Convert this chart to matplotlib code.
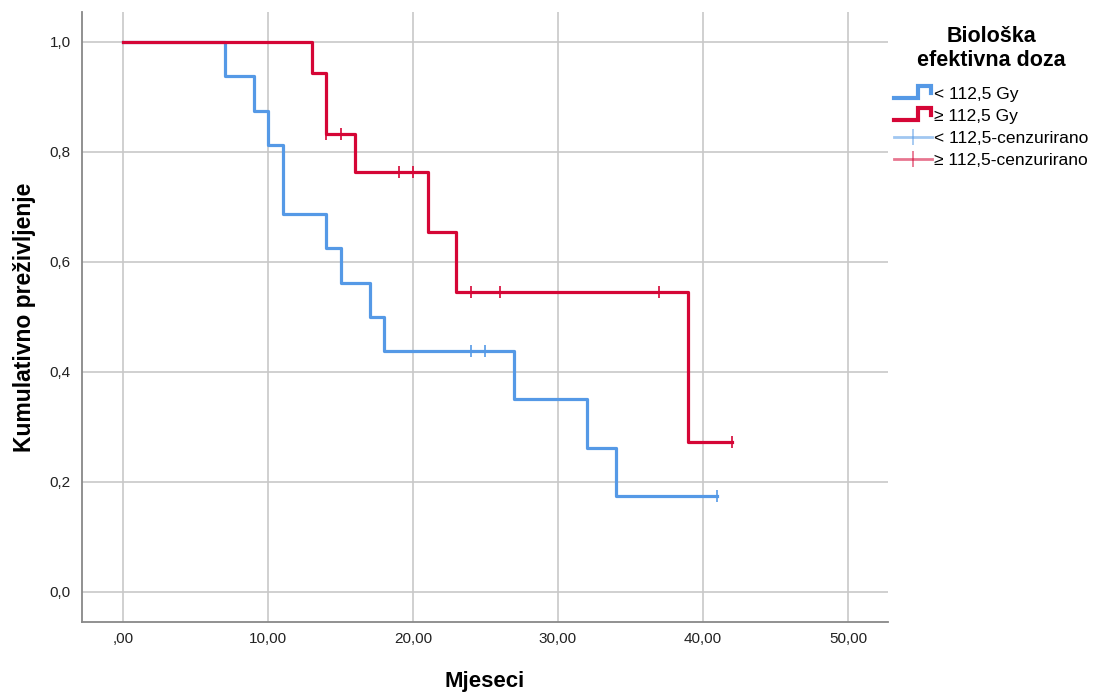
import numpy as np
import matplotlib
matplotlib.use("Agg")
import matplotlib.pyplot as plt
from matplotlib.lines import Line2D
from matplotlib.legend_handler import HandlerBase

plt.rcParams['font.family'] = ['Liberation Sans', 'DejaVu Sans']

# Kaplan-Meier steps (time, survival after the step)
low_times = [0, 7, 9, 10, 11, 14, 15, 17, 18, 27, 32, 34, 41]
low_surv = [1.0, 0.9375, 0.875, 0.8125, 0.6875, 0.625, 0.5625, 0.5, 0.4375, 0.35, 0.2625, 0.175, 0.175]
low_cens_t = [24, 25, 41]
low_cens_s = [0.4375, 0.4375, 0.175]

high_times = [0, 13, 14, 16, 21, 23, 39, 42]
high_surv = [1.0, 0.9444, 0.8333, 0.7639, 0.6548, 0.5457, 0.2728, 0.2728]
high_cens_t = [14, 15, 19, 20, 24, 26, 37, 42]
high_cens_s = [0.8333, 0.8333, 0.7639, 0.7639, 0.5457, 0.5457, 0.5457, 0.2728]

x_ticks = [0, 10, 20, 30, 40, 50]
x_labels = [',00', '10,00', '20,00', '30,00', '40,00', '50,00']
y_ticks = [0.0, 0.2, 0.4, 0.6, 0.8, 1.0]
y_labels = ['0,0', '0,2', '0,4', '0,6', '0,8', '1,0']

blue = '#5599e6'
red = '#d50636'

fig = plt.figure(figsize=(11.02, 6.93), dpi=100)
ax = fig.add_axes([0.0744, 0.1025, 0.7314, 0.8802])

ax.step(low_times, low_surv, where='post', color=blue, lw=2.3, zorder=3)
ax.step(high_times, high_surv, where='post', color=red, lw=2.3, zorder=4)
ax.plot(low_cens_t, low_cens_s, ls='none', marker='|', ms=9, mew=1.2, color=blue, zorder=5)
ax.plot(high_cens_t, high_cens_s, ls='none', marker='|', ms=9, mew=1.2, color=red, zorder=5)

ax.set_xlim(-2.83, 52.76)
ax.set_ylim(-0.0545, 1.0545)
ax.set_xticks(x_ticks)
ax.set_xticklabels(x_labels)
ax.set_yticks(y_ticks)
ax.set_yticklabels(y_labels)
ax.tick_params(length=0, labelsize=11, colors='#222222')
ax.tick_params(axis='x', pad=7)
ax.tick_params(axis='y', pad=8)
ax.grid(True, color='#c8c8c8', lw=1.2)
ax.set_axisbelow(True)
for s in ['top', 'right']:
    ax.spines[s].set_visible(False)
for s in ['left', 'bottom']:
    ax.spines[s].set_color('#888888')
    ax.spines[s].set_linewidth(1.3)

ax.set_xlabel('Mjeseci', fontsize=16, fontweight='bold', labelpad=18)
ax.set_ylabel('Kumulativno preživljenje', fontsize=16.5, fontweight='bold', labelpad=10)


class StepHandler(HandlerBase):
    def create_artists(self, legend, orig_handle, xdescent, ydescent,
                       width, height, fontsize, trans):
        w, h = width, height
        xs = np.array([0, 0.62, 0.62, 0.96, 0.96]) * w - xdescent
        ys = np.array([0.05, 0.05, 1.05, 1.05, 0.45]) * h - ydescent
        ln = Line2D(xs, ys, color=orig_handle.get_color(), lw=3.0,
                    solid_joinstyle='miter', transform=trans)
        return [ln]


h1 = Line2D([], [], color=blue)
h2 = Line2D([], [], color=red)
h3 = Line2D([], [], color=blue, lw=2, alpha=0.55, marker='|', ms=12, mew=1.3)
h4 = Line2D([], [], color=red, lw=2, alpha=0.55, marker='|', ms=12, mew=1.3)

leg = fig.legend([h1, h2, h3, h4],
                 ['< 112,5 Gy', '≥ 112,5 Gy', '< 112,5-cenzurirano', '≥ 112,5-cenzurirano'],
                 handler_map={h1: StepHandler(), h2: StepHandler()},
                 loc='upper left', bbox_to_anchor=(0.797, 0.985),
                 frameon=False, fontsize=12.5, handlelength=2.2, handletextpad=0.1,
                 labelspacing=0.4, title='Biološka\nefektivna doza',
                 title_fontproperties={'size': 15.5, 'weight': 'bold'})
leg.get_title().set_multialignment('center')
leg._legend_box.align = 'center'
leg._legend_box.sep = 11

fig.savefig('out.png', dpi=100)
